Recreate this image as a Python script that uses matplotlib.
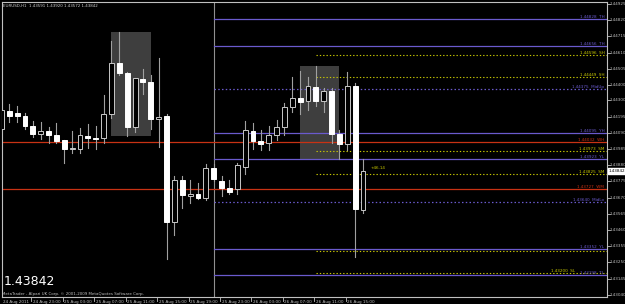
import matplotlib
matplotlib.use('Agg')
import matplotlib.pyplot as plt
from matplotlib.patches import Rectangle
from matplotlib.transforms import blended_transform_factory

# EURUSD H1 bars (bar 4 = 24 Aug 23:00, last bar = 26 Aug 17:00)
bar_idx = list(range(47))
opens = [1.44115, 1.44232, 1.44219, 1.44199, 1.44135, 1.44083, 1.44102, 1.44076, 1.44044, 1.43985,
         1.43985, 1.44070, 1.44057, 1.44057, 1.44212, 1.44543, 1.44478, 1.44128, 1.44439, 1.44420,
         1.44180, 1.44199, 1.43512, 1.43784, 1.43681, 1.43694, 1.43668, 1.43862, 1.43778, 1.43733,
         1.43726, 1.43869, 1.44102, 1.44037, 1.44024, 1.44076, 1.44128, 1.44258, 1.44316, 1.44297,
         1.44387, 1.44297, 1.44361, 1.44083, 1.44018, 1.44394, 1.43591]
highs = [1.44271, 1.44277, 1.44264, 1.44219, 1.44167, 1.44160, 1.44128, 1.44154, 1.44044, 1.44102,
         1.44122, 1.44147, 1.44135, 1.44335, 1.44685, 1.44744, 1.44484, 1.44446, 1.44504, 1.44465,
         1.44575, 1.44212, 1.43810, 1.43810, 1.43784, 1.43765, 1.43888, 1.43888, 1.43810, 1.43784,
         1.43895, 1.44167, 1.44154, 1.44109, 1.44135, 1.44173, 1.44284, 1.44452, 1.44491, 1.44452,
         1.44523, 1.44381, 1.44381, 1.44109, 1.44484, 1.44413, 1.43920]
lows = [1.44096, 1.44160, 1.44160, 1.44115, 1.44063, 1.44050, 1.44024, 1.44024, 1.43895, 1.43960,
        1.43960, 1.43992, 1.43985, 1.44024, 1.44186, 1.44465, 1.44070, 1.44096, 1.44342, 1.44115,
        1.43998, 1.43272, 1.43428, 1.43603, 1.43636, 1.43661, 1.43655, 1.43778, 1.43681, 1.43694,
        1.43694, 1.43823, 1.43985, 1.43979, 1.43979, 1.44044, 1.44076, 1.44225, 1.44212, 1.44238,
        1.44264, 1.44225, 1.44024, 1.43921, 1.43979, 1.43285, 1.43572]
closes = [1.44238, 1.44199, 1.44199, 1.44135, 1.44083, 1.44102, 1.44076, 1.44037, 1.43985, 1.43992,
          1.44076, 1.44057, 1.44050, 1.44212, 1.44543, 1.44478, 1.44128, 1.44446, 1.44420, 1.44180,
          1.44193, 1.43512, 1.43784, 1.43687, 1.43694, 1.43668, 1.43862, 1.43791, 1.43733, 1.43707,
          1.43882, 1.44109, 1.44037, 1.44018, 1.44076, 1.44128, 1.44258, 1.44316, 1.44290, 1.44394,
          1.44297, 1.44361, 1.44083, 1.44018, 1.44394, 1.43597, 1.43842]

# session boxes: (first bar, last bar, high, low)
boxes = [(14, 19, 1.44744, 1.44070), (38, 43, 1.44523, 1.43921)]

# level lines
purple_lv = [1.44828, 1.44653, 1.44089, 1.43921, 1.43340, 1.43166]
purple_lb = ['1.44828  TH', '1.44656  TH', '1.44095  YH', '1.43923  YL', '1.43352  YL', '1.43198  TL']
mid_lv = [1.44374, 1.43642]
mid_lb = ['1.44375  MidUp', '1.43640  MidLo']
red_lv = [1.44031, 1.43726]
red_lb = ['1.44032  WH', '1.43727  WM']
yel_lv = [1.44595, 1.44452, 1.43972, 1.43823, 1.43327, 1.43179]
yel_lb = ['1.44596  SH', '1.44449  SH', '1.43973  SM', '1.43825  SM', '', '1.43200  SL']

price_ticks = [1.44925, 1.44820, 1.44715, 1.44610, 1.44505, 1.44400, 1.44300, 1.44195, 1.44090,
               1.43985, 1.43880, 1.43775, 1.43670, 1.43565, 1.43460, 1.43355, 1.43250, 1.43145, 1.43040]
time_ticks = [4, 8, 12, 16, 20, 24, 28, 32, 36, 40, 44]
time_labels = ['24 Aug 23:00', '25 Aug 03:00', '25 Aug 07:00', '25 Aug 11:00', '25 Aug 15:00',
               '25 Aug 19:00', '25 Aug 23:00', '26 Aug 03:00', '26 Aug 07:00', '26 Aug 11:00',
               '26 Aug 15:00']
last_price = 1.43842

PURPLE = '#6a5acd'
RED = '#c83214'
YELLOW = '#c8c800'
GREY = '#a0a0a0'
FS = 3.0

fig = plt.figure(figsize=(6.25, 3.04), dpi=100, facecolor='black')
ax = fig.add_axes([2/625, 7/304, 605/625, 295/304])
ax.set_facecolor('black')
ax.set_xlim(0.07, 77.04)
ax.set_ylim(1.43026, 1.44938)
for s in ax.spines.values():
    s.set_color('#c0c0c0')
    s.set_linewidth(0.8)
ax.set_xticks([])
ax.set_yticks([])

x_end = 77.04
for (b0, b1, hi, lo) in boxes:
    ax.add_patch(Rectangle((b0, lo), b1 - b0, hi - lo, facecolor='#3e3e3e', edgecolor='none', zorder=1))

ax.axvline(27, color='#909090', lw=0.8, zorder=2)

for p, lb in zip(red_lv, red_lb):
    ax.plot([0.07, x_end], [p, p], color=RED, lw=0.9, zorder=2)
    ax.text(76.7, p, lb, color=RED, fontsize=FS, ha='right', va='bottom', zorder=6)
for p, lb in zip(purple_lv, purple_lb):
    ax.plot([27, x_end], [p, p], color=PURPLE, lw=0.9, zorder=2)
    ax.text(76.7, p, lb, color=PURPLE, fontsize=FS, ha='right', va='bottom', zorder=6)
for p, lb in zip(mid_lv, mid_lb):
    ax.plot([27, x_end], [p, p], color=PURPLE, lw=0.9, ls=(0, (1.2, 1.8)), zorder=2)
    ax.text(76.7, p, lb, color=PURPLE, fontsize=FS, ha='right', va='bottom', zorder=6)
for p, lb in zip(yel_lv, yel_lb):
    ax.plot([40, x_end], [p, p], color=YELLOW, lw=0.8, ls=(0, (1.2, 1.8)), zorder=2)
    if lb:
        # the low session label sits left of the TL label so the two do not collide
        xr = 73.0 if p < 1.4325 else 76.7
        ax.text(xr, p, lb, color=YELLOW, fontsize=FS, ha='right', va='bottom', zorder=5)

# candles
w = 0.62
for i, o, h, l, c in zip(bar_idx, opens, highs, lows, closes):
    ax.plot([i, i], [l, h], color=GREY, lw=0.8, zorder=3)
    bot, top = min(o, c), max(o, c)
    if c >= o:
        ax.add_patch(Rectangle((i - w/2, bot), w, max(top - bot, 1e-6), facecolor='black',
                               edgecolor='#c8c8c8', lw=0.7, zorder=4))
    else:
        ax.add_patch(Rectangle((i - w/2, bot), w, max(top - bot, 1e-6), facecolor='white',
                               edgecolor='white', lw=0.7, zorder=4))

ax.text(47.0, 1.43860, '+46.14', color=YELLOW, fontsize=FS, ha='left', va='center', zorder=6)

# header and footer texts
ax.text(0.002, 0.993, 'EURUSD,H1  1.43591 1.43920 1.43572 1.43842', transform=ax.transAxes,
        color='#d0d0d0', fontsize=2.9, ha='left', va='top')
ax.text(0.003, 0.03, '1.43842', transform=ax.transAxes, color='white', fontsize=9,
        ha='left', va='bottom')
ax.text(0.0, 0.005, 'MetaTrader - Alpari UK Corp. \u00a9 2001-2009 MetaQuotes Software Corp.',
        transform=ax.transAxes, color='#c0c0c0', fontsize=2.9, ha='left', va='bottom')

# price scale on the right
ty = blended_transform_factory(ax.transAxes, ax.transData)
for p in price_ticks:
    ax.plot([1.0, 1.005], [p, p], transform=ty, color='#c0c0c0', lw=0.6, clip_on=False)
    ax.text(1.004, p, '%.5f' % p, transform=ty, color='#c0c0c0', fontsize=FS,
            ha='left', va='center', clip_on=False)
ax.text(1.003, last_price, '%.5f' % last_price, transform=ty, color='black', fontsize=FS,
        ha='left', va='center', clip_on=False,
        bbox=dict(boxstyle='square,pad=0.2', facecolor='white', edgecolor='white'))

# time scale at the bottom
tx = blended_transform_factory(ax.transData, ax.transAxes)
ax.text(0.15, -0.01, '24 Aug 2011', transform=tx, color='#c0c0c0', fontsize=FS,
        ha='left', va='top', clip_on=False)
for t, lb in zip(time_ticks, time_labels):
    ax.plot([t - 0.2, t - 0.2], [0, -0.012], transform=tx, color='#c0c0c0', lw=0.6, clip_on=False)
    ax.text(t, -0.01, lb, transform=tx, color='#c0c0c0', fontsize=FS,
            ha='left', va='top', clip_on=False)

fig.savefig('out.png', dpi=100, facecolor='black')
